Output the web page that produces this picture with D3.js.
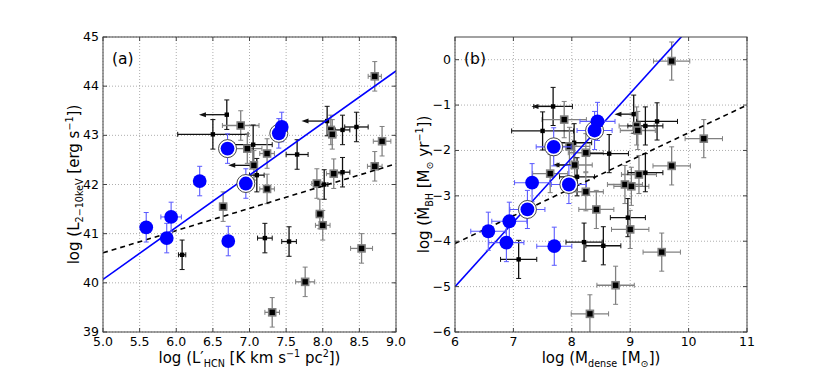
<!DOCTYPE html>
<html>
<head>
<meta charset="utf-8">
<script src="https://cdn.jsdelivr.net/npm/d3@7"></script>
<style>
  body { margin: 0; background: #fff; }
  svg { font-family: "DejaVu Sans", sans-serif; }
</style>
</head>
<body>
<svg id="fig" width="830" height="369"></svg>
<script>
// panel (a): hard X-ray luminosity vs HCN luminosity
var aBlueX = [5.59, 5.87, 5.93, 6.32, 6.70, 6.71, 6.95, 7.40, 7.44];
var aBlueY = [41.13, 40.91, 41.34, 42.07, 42.73, 40.85, 42.02, 43.04, 43.17];
var aBlueXerr = [0, 0, 0.14, 0, 0, 0, 0, 0, 0];
var aBlueYerr = [0.3, 0.3, 0.3, 0.3, 0.3, 0.3, 0.3, 0.3, 0.3];
var aBlueRing = [0, 0, 0, 0, 1, 0, 1, 1, 0];

var aX = [6.69, 6.88, 6.50, 6.97, 7.05, 7.24, 7.65, 7.06, 7.10, 7.24, 8.71, 8.06, 8.11, 8.13, 8.27, 8.46,
          8.81, 8.71, 8.15, 8.27, 7.92, 8.02, 7.21, 7.54, 7.96, 8.00, 8.53, 7.76, 7.31, 6.08, 6.64];
var aY = [43.42, 43.20, 43.02, 42.73, 42.81, 42.63, 42.61, 42.39, 42.19, 41.91, 44.20, 43.29, 43.11, 43.02, 43.11, 43.17,
          42.88, 42.37, 42.22, 42.25, 42.02, 42.00, 40.91, 40.84, 41.40, 41.17, 40.70, 40.02, 39.40, 40.57, 41.55];
var aXerr = [0, 0.25, 0.48, 0.2, 0.26, 0.1, 0.15, 0, 0.1, 0.1, 0.09, 0, 0.05, 0.05, 0.1, 0.16,
             0.12, 0.1, 0.1, 0.1, 0.07, 0.05, 0.1, 0.1, 0.05, 0.1, 0.15, 0.13, 0.1, 0.05, 0.05];
var aYerr = [0.3, 0.3, 0.3, 0.3, 0.4, 0.3, 0.3, 0.3, 0.34, 0.3, 0.3, 0.3, 0.3, 0.3, 0.3, 0.3,
             0.3, 0.3, 0.3, 0.3, 0.3, 0.3, 0.3, 0.3, 0.3, 0.3, 0.3, 0.3, 0.3, 0.3, 0.3];
var aLimit = [0.38, 0, 0, 0, 0, 0, 0, 0.35, 0, 0, 0, 0.35, 0, 0, 0, 0,
              0, 0, 0, 0, 0, 0, 0, 0, 0, 0, 0, 0, 0, 0, 0];
var aGroup = ["k", "g", "k", "g", "k", "g", "k", "g", "k", "g", "g", "k", "g", "g", "k", "k",
              "g", "g", "g", "k", "g", "k", "k", "k", "g", "g", "g", "g", "g", "k", "g"];

var aFitX = [5.0, 9.0];
var aFitBlue = [40.07, 44.31];
var aFitDash = [40.61, 42.42];

// panel (b): BH accretion rate vs dense gas mass
var bBlueX = [6.57, 6.88, 6.93, 7.24, 7.32, 7.69, 7.70, 7.95, 8.39, 8.44];
var bBlueY = [-3.78, -4.03, -3.56, -3.30, -2.71, -1.92, -4.11, -2.75, -1.56, -1.36];
var bBlueXerr = [0.3, 0.3, 0.3, 0.3, 0.3, 0.3, 0.3, 0.3, 0.3, 0.3];
var bBlueYerr = [0.42, 0.42, 0.42, 0.42, 0.42, 0.42, 0.42, 0.42, 0.42, 0.42];
var bBlueRing = [0, 0, 0, 1, 0, 1, 0, 1, 1, 0];

var bX = [9.71, 7.68, 7.87, 7.50, 8.04, 7.96, 8.24, 8.05, 7.63, 8.09, 8.24, 8.42, 9.06, 9.11, 9.13, 9.26,
          9.46, 10.26, 8.64, 9.71, 8.91, 9.02, 9.15, 9.26, 8.96, 9.00, 9.54, 8.21, 8.54, 8.75, 8.31, 7.09];
var bY = [-0.03, -1.03, -1.32, -1.57, -1.83, -1.91, -2.05, -2.32, -2.51, -2.58, -2.91, -3.30, -1.20, -1.46, -1.56, -1.46,
          -1.36, -1.74, -2.07, -2.34, -2.75, -2.79, -2.53, -2.49, -3.48, -3.74, -4.24, -4.02, -4.10, -4.97, -5.60, -4.40];
var bXerr = [0.31, 0.33, 0.38, 0.53, 0.3, 0.35, 0.3, 0.3, 0.3, 0.3, 0.3, 0.3, 0, 0.3, 0.3, 0.3,
             0.35, 0.32, 0.33, 0.32, 0.3, 0.3, 0.3, 0.3, 0.3, 0.32, 0.32, 0.31, 0.3, 0.32, 0.32, 0.31];
var bYerr = [0.42, 0.42, 0.4, 0.42, 0.42, 0.42, 0.42, 0.42, 0.42, 0.42, 0.42, 0.42, 0.42, 0.42, 0.42, 0.42,
             0.41, 0.42, 0.42, 0.42, 0.42, 0.42, 0.42, 0.42, 0.42, 0.42, 0.42, 0.42, 0.42, 0.42, 0.42, 0.42];
var bLimit = [0, 0.37, 0, 0, 0, 0, 0, 0.38, 0, 0, 0, 0, 0.33, 0, 0, 0,
              0, 0, 0, 0, 0, 0, 0, 0, 0, 0, 0, 0, 0, 0, 0, 0];
var bGroup = ["g", "k", "g", "k", "k", "g", "g", "g", "g", "k", "g", "g", "k", "g", "g", "k",
              "k", "g", "k", "g", "g", "g", "g", "k", "k", "g", "g", "k", "k", "g", "g", "k"];

var bFitX = [6, 11];
var bFitBlue = [-5.0, 2.1];
var bFitDash = [-4.05, -1.0];

var aXTicks = [5.0, 5.5, 6.0, 6.5, 7.0, 7.5, 8.0, 8.5, 9.0];
var aYTicks = [39, 40, 41, 42, 43, 44, 45];
var bXTicks = [6, 7, 8, 9, 10, 11];
var bYTicks = [-6, -5, -4, -3, -2, -1, 0];

var BLUE = "#0000ff", BLUE_ERR = "#5a5aff", GREY = "#808080";

var svg = d3.select("#fig");

function zip(xs, ys, xe, ye, extra) {
    return xs.map(function (x, i) {
        var d = { x: x, y: ys[i], xe: xe[i], ye: ye[i] };
        for (var k in extra) d[k] = extra[k][i];
        return d;
    });
}

// label made of [text, kind] pieces, kind "" | "sub" | "sup"
function richText(sel, parts, size) {
    var shift = 0;
    parts.forEach(function (p) {
        var target = p[1] === "sub" ? size * 0.25 : p[1] === "sup" ? -size * 0.4 : 0;
        sel.append("tspan")
            .attr("dy", target - shift)
            .attr("font-size", p[1] ? size * 0.64 : size)
            .text(p[0]);
        shift = target;
    });
}

function drawPanel(cfg) {
    var g = svg.append("g");
    var x = d3.scaleLinear().domain(cfg.xDomain).range([cfg.left, cfg.right]);
    var y = d3.scaleLinear().domain(cfg.yDomain).range([cfg.bottom, cfg.top]);

    g.append("clipPath").attr("id", cfg.id + "clip")
        .append("rect")
        .attr("x", cfg.left).attr("y", cfg.top)
        .attr("width", cfg.right - cfg.left).attr("height", cfg.bottom - cfg.top);

    // grid
    g.selectAll("line.gx").data(cfg.xTicks).enter().append("line")
        .attr("x1", function (d) { return x(d); }).attr("x2", function (d) { return x(d); })
        .attr("y1", cfg.top).attr("y2", cfg.bottom)
        .attr("stroke", "#999").attr("stroke-width", 0.8).attr("stroke-dasharray", "1,2");
    g.selectAll("line.gy").data(cfg.yTicks).enter().append("line")
        .attr("y1", function (d) { return y(d); }).attr("y2", function (d) { return y(d); })
        .attr("x1", cfg.left).attr("x2", cfg.right)
        .attr("stroke", "#999").attr("stroke-width", 0.8).attr("stroke-dasharray", "1,2");

    var plot = g.append("g").attr("clip-path", "url(#" + cfg.id + "clip)");

    // black sample error bars
    cfg.black.forEach(function (d) {
        var c = d.grp === "g" ? GREY : "#111";
        var px = x(d.x), py = y(d.y);
        if (d.xe > 0) {
            var x0 = x(d.x - d.xe), x1 = x(d.x + d.xe);
            plot.append("line").attr("x1", x0).attr("x2", x1).attr("y1", py).attr("y2", py)
                .attr("stroke", c).attr("stroke-width", 1.3);
            [x0, x1].forEach(function (cx) {
                plot.append("line").attr("x1", cx).attr("x2", cx).attr("y1", py - 2.5).attr("y2", py + 2.5)
                    .attr("stroke", c).attr("stroke-width", 1);
            });
        }
        var y0 = y(d.y - d.ye), y1 = y(d.y + d.ye);
        plot.append("line").attr("x1", px).attr("x2", px).attr("y1", y0).attr("y2", y1)
            .attr("stroke", c).attr("stroke-width", 1.3);
        [y0, y1].forEach(function (cy) {
            plot.append("line").attr("x1", px - 2.5).attr("x2", px + 2.5).attr("y1", cy).attr("y2", cy)
                .attr("stroke", c).attr("stroke-width", 1);
        });
        if (d.lim > 0) {
            var ax = x(d.x - d.lim);
            plot.append("line").attr("x1", px).attr("x2", ax + 4).attr("y1", py).attr("y2", py)
                .attr("stroke", "#111").attr("stroke-width", 1.3);
            plot.append("path")
                .attr("d", "M" + ax + "," + py + "L" + (ax + 7) + "," + (py - 2.5) + "L" + (ax + 7) + "," + (py + 2.5) + "Z")
                .attr("fill", "#111");
        }
    });

    // black sample markers
    plot.selectAll("rect.pt").data(cfg.black).enter().append("rect")
        .attr("x", function (d) { return x(d.x) - (d.grp === "g" ? 3.5 : 2.2); })
        .attr("y", function (d) { return y(d.y) - (d.grp === "g" ? 3.5 : 2.2); })
        .attr("width", function (d) { return d.grp === "g" ? 7 : 4.4; })
        .attr("height", function (d) { return d.grp === "g" ? 7 : 4.4; })
        .attr("fill", "#000")
        .attr("stroke", function (d) { return d.grp === "g" ? GREY : "none"; })
        .attr("stroke-width", 1.6);

    // fits
    plot.append("line")
        .attr("x1", x(cfg.fitX[0])).attr("x2", x(cfg.fitX[1]))
        .attr("y1", y(cfg.fitDash[0])).attr("y2", y(cfg.fitDash[1]))
        .attr("stroke", "#000").attr("stroke-width", 1.6).attr("stroke-dasharray", "5,4");
    plot.append("line")
        .attr("x1", x(cfg.fitX[0])).attr("x2", x(cfg.fitX[1]))
        .attr("y1", y(cfg.fitBlue[0])).attr("y2", y(cfg.fitBlue[1]))
        .attr("stroke", BLUE).attr("stroke-width", 1.6);

    // blue sample
    cfg.blue.forEach(function (d) {
        var px = x(d.x), py = y(d.y);
        if (d.xe > 0) {
            var x0 = x(d.x - d.xe), x1 = x(d.x + d.xe);
            plot.append("line").attr("x1", x0).attr("x2", x1).attr("y1", py).attr("y2", py)
                .attr("stroke", BLUE_ERR).attr("stroke-width", 1.1);
            [x0, x1].forEach(function (cx) {
                plot.append("line").attr("x1", cx).attr("x2", cx).attr("y1", py - 2.5).attr("y2", py + 2.5)
                    .attr("stroke", BLUE_ERR).attr("stroke-width", 1);
            });
        }
        var y0 = y(d.y - d.ye), y1 = y(d.y + d.ye);
        plot.append("line").attr("x1", px).attr("x2", px).attr("y1", y0).attr("y2", y1)
            .attr("stroke", BLUE_ERR).attr("stroke-width", 1.1);
        [y0, y1].forEach(function (cy) {
            plot.append("line").attr("x1", px - 2.5).attr("x2", px + 2.5).attr("y1", cy).attr("y2", cy)
                .attr("stroke", BLUE_ERR).attr("stroke-width", 1);
        });
    });
    plot.selectAll("circle.ring").data(cfg.blue.filter(function (d) { return d.ring; })).enter()
        .append("circle")
        .attr("cx", function (d) { return x(d.x); }).attr("cy", function (d) { return y(d.y); })
        .attr("r", 9).attr("fill", "#fff").attr("stroke", "#333").attr("stroke-width", 0.9);
    plot.selectAll("circle.pt").data(cfg.blue).enter().append("circle")
        .attr("cx", function (d) { return x(d.x); }).attr("cy", function (d) { return y(d.y); })
        .attr("r", 6.9).attr("fill", BLUE);

    // frame and inward ticks on all sides
    g.append("rect")
        .attr("x", cfg.left).attr("y", cfg.top)
        .attr("width", cfg.right - cfg.left).attr("height", cfg.bottom - cfg.top)
        .attr("fill", "none").attr("stroke", "#444").attr("stroke-width", 1);
    cfg.xTicks.forEach(function (t) {
        [[cfg.bottom, -4], [cfg.top, 4]].forEach(function (s) {
            g.append("line").attr("x1", x(t)).attr("x2", x(t)).attr("y1", s[0]).attr("y2", s[0] + s[1])
                .attr("stroke", "#444");
        });
    });
    cfg.yTicks.forEach(function (t) {
        [[cfg.left, 4], [cfg.right, -4]].forEach(function (s) {
            g.append("line").attr("y1", y(t)).attr("y2", y(t)).attr("x1", s[0]).attr("x2", s[0] + s[1])
                .attr("stroke", "#444");
        });
    });

    g.selectAll("text.xt").data(cfg.xTicks).enter().append("text")
        .attr("x", function (d) { return x(d); }).attr("y", cfg.bottom + 13.5)
        .attr("text-anchor", "middle").attr("font-size", 12.5)
        .text(function (d) { return cfg.xFmt(d); });
    g.selectAll("text.yt").data(cfg.yTicks).enter().append("text")
        .attr("x", cfg.left - 4).attr("y", function (d) { return y(d) + 4; })
        .attr("text-anchor", "end").attr("font-size", 12.5)
        .text(function (d) { return cfg.yFmt(d); });

    var xl = g.append("text")
        .attr("x", (cfg.left + cfg.right) / 2).attr("y", 363)
        .attr("text-anchor", "middle");
    richText(xl, cfg.xLabel, 15);
    var yl = g.append("text")
        .attr("transform", "translate(" + cfg.yLabelX + "," + (cfg.top + cfg.bottom) / 2 + ") rotate(-90)")
        .attr("text-anchor", "middle");
    richText(yl, cfg.yLabel, 15);

    g.append("text").attr("x", cfg.left + 9).attr("y", cfg.top + 27)
        .attr("font-size", 15.5).text(cfg.tag);
}

var minus = function (d) { return String(d).replace("-", "\u2212"); };

drawPanel({
    id: "a", tag: "(a)",
    left: 103, right: 396, top: 37, bottom: 332,
    xDomain: [5, 9], yDomain: [39, 45],
    xTicks: aXTicks, yTicks: aYTicks,
    xFmt: d3.format(".1f"), yFmt: minus,
    black: zip(aX, aY, aXerr, aYerr, { lim: aLimit, grp: aGroup }),
    blue: zip(aBlueX, aBlueY, aBlueXerr, aBlueYerr, { ring: aBlueRing }),
    fitX: aFitX, fitBlue: aFitBlue, fitDash: aFitDash,
    yLabelX: 79,
    xLabel: [["log (L\u2032", ""], ["HCN", "sub"], [" [K km s", ""], ["\u22121", "sup"], [" pc", ""], ["2", "sup"], ["])", ""]],
    yLabel: [["log (L", ""], ["2\u221210keV", "sub"], [" [erg s", ""], ["\u22121", "sup"], ["])", ""]]
});

drawPanel({
    id: "b", tag: "(b)",
    left: 455, right: 747, top: 37, bottom: 332,
    xDomain: [6, 11], yDomain: [-6, 0.5],
    xTicks: bXTicks, yTicks: bYTicks,
    xFmt: minus, yFmt: minus,
    black: zip(bX, bY, bXerr, bYerr, { lim: bLimit, grp: bGroup }),
    blue: zip(bBlueX, bBlueY, bBlueXerr, bBlueYerr, { ring: bBlueRing }),
    fitX: bFitX, fitBlue: bFitBlue, fitDash: bFitDash,
    yLabelX: 429,
    xLabel: [["log (M", ""], ["dense", "sub"], [" [M", ""], ["\u2299", "sub"], ["])", ""]],
    yLabel: [["log (\u1E40", ""], ["BH", "sub"], [" [M", ""], ["\u2299", "sub"], [" yr", ""], ["\u22121", "sup"], ["])", ""]]
});
</script>
</body>
</html>
